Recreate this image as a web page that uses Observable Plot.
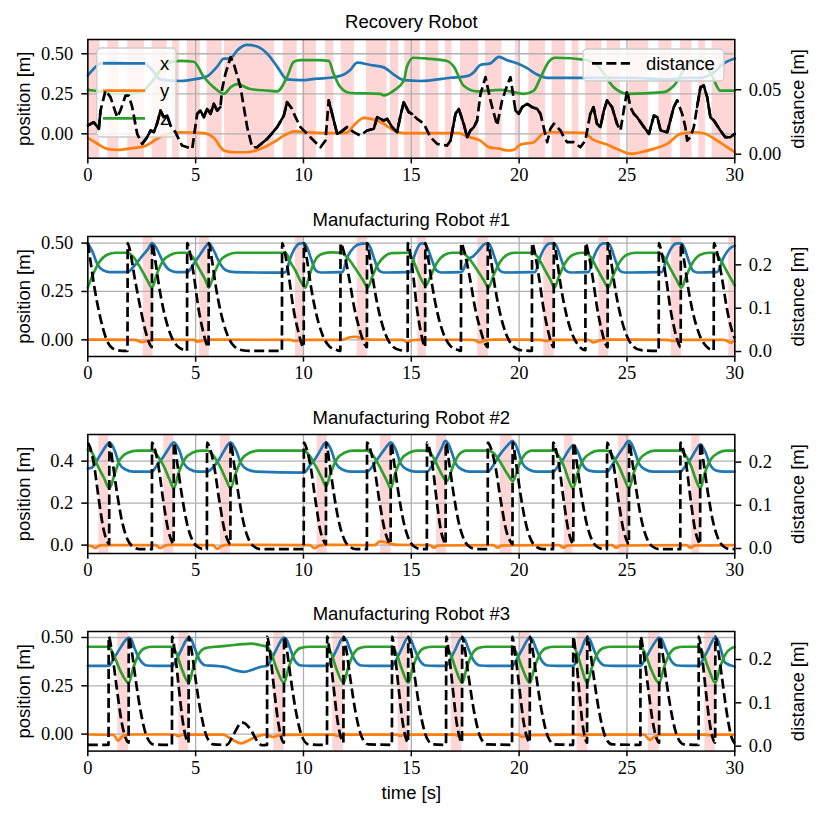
<!DOCTYPE html>
<html><head><meta charset="utf-8">
<script src="https://cdn.jsdelivr.net/npm/d3@7"></script>
<script src="https://cdn.jsdelivr.net/npm/@observablehq/plot@0.6"></script>
<style>
html,body{margin:0;padding:0;background:#fff;}
#fig{position:relative;width:822px;height:822px;overflow:hidden;background:#fff;}
#fig > div{position:absolute;left:0;}
</style></head><body><div id="fig"></div>
<script>
// ---------- labels & ticks ----------
const seriesNames = ["x", "y", "z"];
const distanceName = "distance";
const panelTitles = ["Recovery Robot", "Manufacturing Robot #1", "Manufacturing Robot #2", "Manufacturing Robot #3"];
const timeTicks = [0, 5, 10, 15, 20, 25, 30];
const timeLabel = "time [s]";
const positionLabel = "position [m]";
const distanceLabel = "distance [m]";
const positionTicks = [[0, 0.25, 0.5], [0, 0.25, 0.5], [0, 0.2, 0.4], [0, 0.25, 0.5]];
const positionTickLabels = [["0.00", "0.25", "0.50"], ["0.00", "0.25", "0.50"], ["0.0", "0.2", "0.4"], ["0.00", "0.25", "0.50"]];
const distanceTicks = [[0, 0.05], [0, 0.1, 0.2], [0, 0.1, 0.2], [0, 0.1, 0.2]];
const distanceTickLabels = [["0.00", "0.05"], ["0.0", "0.1", "0.2"], ["0.0", "0.1", "0.2"], ["0.0", "0.1", "0.2"]];
const positionDomains = [[-0.152, 0.589], [-0.086, 0.534], [-0.040, 0.527], [-0.088, 0.531]];
const distanceDomains = [[-0.0031, 0.089], [-0.0115, 0.2654], [-0.0116, 0.2639], [-0.0115, 0.2647]];

// ---------- Recovery Robot (t, value pairs) ----------
const rec_x = [0,0.365, 0.3,0.41, 0.59,0.44, 1.2,0.45, 1.82,0.44, 2.6,0.44, 2.98,0.40, 3.37,0.34, 4.3,0.33, 4.91,0.34, 5.53,0.36, 6.0,0.42, 6.31,0.47, 6.6,0.47, 6.92,0.52, 7.39,0.555, 7.85,0.545, 8.32,0.50, 8.78,0.42, 9.24,0.34, 9.86,0.335, 10.63,0.345, 11.25,0.35, 11.87,0.37, 12.18,0.40, 12.49,0.445, 13.1,0.43, 13.72,0.415, 14.19,0.37, 14.65,0.335, 15.42,0.33, 16.82,0.35, 17.59,0.36, 17.9,0.385, 18.2,0.43, 18.66,0.44, 19.06,0.48, 19.44,0.46, 19.9,0.44, 20.37,0.41, 20.83,0.37, 21.3,0.35, 23.45,0.35, 25.3,0.35, 26.87,0.34, 27.8,0.35, 28.41,0.35, 29.0,0.38, 29.49,0.44, 30,0.47];
const rec_y = [0,-0.025, 0.43,-0.06, 0.9,-0.094, 1.36,-0.10, 2.13,-0.088, 2.6,-0.079, 3.21,-0.031, 3.68,0.0, 4.3,0.01, 5.38,0.004, 5.84,-0.025, 6.31,-0.104, 6.77,-0.115, 7.39,-0.115, 8.0,-0.094, 8.62,-0.052, 9.24,0.0, 9.55,0.015, 10.63,0.006, 11.4,0.004, 12.02,0.008, 12.33,0.052, 12.8,0.10, 13.26,0.09, 13.72,0.063, 14.19,0.02, 14.65,0.004, 17.2,0.004, 17.59,-0.017, 18.2,-0.042, 18.59,-0.083, 19.13,-0.094, 19.44,-0.104, 19.75,-0.10, 20.06,-0.067, 20.68,-0.052, 21.14,0.004, 21.6,0.01, 23.0,0.006, 23.45,-0.038, 24.08,-0.067, 24.7,-0.104, 25.16,-0.125, 25.63,-0.115, 26.24,-0.094, 26.87,-0.063, 27.48,0.0, 28.1,0.01, 28.56,0.004, 29.18,-0.042, 29.65,-0.083, 30,-0.115];
const rec_z = [0,0.275, 0.59,0.265, 1.2,0.25, 1.82,0.25, 2.44,0.26, 3.06,0.34, 3.68,0.44, 4.3,0.455, 4.91,0.45, 5.38,0.355, 5.84,0.29, 6.31,0.25, 6.62,0.29, 6.92,0.31, 7.54,0.28, 8.32,0.27, 8.78,0.265, 9.24,0.355, 9.55,0.45, 9.86,0.46, 10.63,0.46, 11.17,0.455, 11.4,0.375, 11.72,0.29, 12.18,0.255, 13.57,0.25, 13.72,0.24, 14.19,0.27, 14.65,0.33, 14.8,0.42, 15.1,0.475, 15.73,0.47, 16.66,0.455, 16.97,0.42, 17.43,0.30, 18.05,0.265, 19.13,0.275, 19.75,0.26, 20.22,0.25, 20.68,0.27, 20.99,0.35, 21.37,0.45, 21.68,0.475, 23.15,0.46, 23.61,0.43, 24.39,0.29, 25.0,0.25, 26.71,0.26, 27.17,0.30, 27.8,0.43, 28.25,0.46, 28.56,0.45, 28.95,0.36, 29.33,0.27, 30,0.27];
const rec_dist = [0,0.0223, 0.28,0.0248, 0.51,0.0197, 0.59,0.0339, 0.82,0.0494, 1.05,0.0443, 1.36,0.0287, 1.51,0.0339, 1.75,0.0455, 1.9,0.0455, 2.06,0.0365, 2.29,0.0158, 2.52,0.008, 2.75,0.0132, 2.91,0.0184, 3.06,0.0171, 3.21,0.0236, 3.37,0.0339, 3.52,0.0287, 3.68,0.03, 3.83,0.0223, 4.06,0.0171, 4.37,0.0067, 4.84,0.0041, 5.07,0.0313, 5.22,0.0339, 5.38,0.0287, 5.53,0.0352, 5.69,0.0313, 5.84,0.0391, 6.0,0.0339, 6.15,0.0365, 6.23,0.0507, 6.38,0.0624, 6.62,0.0753, 6.77,0.0701, 7.08,0.052, 7.39,0.021, 7.62,0.0054, 7.85,0.0054, 8.32,0.0119, 8.78,0.021, 9.09,0.03, 9.24,0.0404, 9.47,0.0352, 9.63,0.0287, 9.86,0.021, 10.32,0.0132, 10.79,0.0054, 11.02,0.0106, 11.17,0.0417, 11.33,0.0313, 11.56,0.0158, 11.72,0.0171, 12.02,0.021, 12.33,0.0171, 12.64,0.0145, 12.95,0.0184, 13.26,0.0197, 13.42,0.0287, 13.72,0.0261, 13.88,0.0274, 14.11,0.021, 14.34,0.0171, 14.5,0.03, 14.65,0.0404, 14.88,0.0326, 15.04,0.0313, 15.27,0.0274, 15.58,0.0236, 15.89,0.0132, 16.2,0.008, 16.66,0.0067, 16.82,0.0106, 17.05,0.0313, 17.2,0.0352, 17.43,0.0236, 17.59,0.0132, 17.74,0.0184, 17.9,0.021, 18.05,0.0261, 18.21,0.0468, 18.44,0.0598, 18.67,0.0417, 18.98,0.0223, 19.21,0.0417, 19.44,0.0533, 19.6,0.0598, 19.83,0.0339, 19.98,0.0313, 20.14,0.0365, 20.37,0.0391, 20.6,0.0365, 20.83,0.0352, 20.99,0.0313, 21.3,0.0093, 21.45,0.0197, 21.61,0.0236, 21.76,0.021, 21.92,0.0184, 22.07,0.0132, 22.23,0.0093, 22.53,0.0093, 22.84,0.0054, 23.07,0.0106, 23.3,0.0313, 23.45,0.0365, 23.61,0.0236, 23.77,0.021, 23.93,0.0339, 24.08,0.0417, 24.31,0.0365, 24.54,0.0236, 24.7,0.0184, 24.85,0.0339, 25.01,0.0494, 25.16,0.0365, 25.32,0.0313, 25.47,0.0287, 25.79,0.021, 26.02,0.0158, 26.25,0.03, 26.41,0.0287, 26.56,0.0184, 26.87,0.0171, 27.17,0.0365, 27.33,0.0417, 27.56,0.0313, 27.71,0.021, 27.79,0.0106, 27.94,0.0132, 28.1,0.021, 28.25,0.0365, 28.41,0.052, 28.56,0.0533, 28.72,0.0443, 28.87,0.0287, 29.03,0.0261, 29.33,0.0184, 29.56,0.0132, 29.79,0.0132, 30,0.0158];
const rec_spans = [0,0.56, 0.93,1.44, 1.85,2.63, 2.98,3.68, 3.93,4.25, 4.61,5.22, 5.53,6.23, 6.34,8.66, 9.06,9.71, 9.94,10.6, 11.02,11.41, 11.75,12.36, 12.92,13.88, 14.03,14.42, 14.7,15.42, 15.66,16.28, 16.58,16.89, 17.28,18.13, 18.44,19.21, 19.83,20.02, 20.45,21.22, 21.53,22.15, 22.46,22.77, 23.08,23.85, 24.08,24.7, 25.08,26.01, 26.48,27.09, 27.48,28.02, 28.33,28.64, 28.95,30];
// stretches where the noisy distance trace reads as a continuous stroke
const rec_dense = [0,0.6, 2.3,3.83, 5.0,6.2, 7.8,9.3, 11.1,12.1, 12.95,15.04, 16.82,18.1, 19.83,21.05, 23.2,24.6, 25.3,27.4, 28.25,30];

// ---------- Manufacturing Robot #1 ----------
const m1_x = [0,0.5, 0.2,0.46, 0.45,0.39, 0.7,0.36, 1.0,0.35, 1.85,0.35, 2.1,0.375, 2.5,0.43, 2.8,0.47, 2.98,0.5, 3.2,0.47, 3.5,0.40, 3.8,0.36, 4.1,0.35, 4.61,0.35, 4.9,0.39, 5.2,0.44, 5.45,0.48, 5.61,0.5, 5.85,0.46, 6.1,0.40, 6.4,0.36, 6.8,0.35, 9.01,0.347, 9.17,0.35, 9.4,0.426, 9.63,0.478, 9.86,0.498, 10.02,0.498, 10.17,0.478, 10.33,0.426, 10.56,0.36, 10.79,0.348, 11.72,0.35, 11.8,0.35, 12.03,0.426, 12.34,0.478, 12.65,0.496, 12.93,0.498, 13.1,0.478, 13.26,0.426, 13.49,0.36, 13.72,0.348, 14.84,0.35, 14.95,0.35, 15.12,0.426, 15.3,0.478, 15.48,0.498, 15.62,0.496, 15.77,0.47, 15.93,0.42, 16.16,0.36, 16.39,0.348, 17.31,0.35, 17.4,0.36, 17.6,0.41, 17.9,0.435, 18.15,0.465, 18.4,0.495, 18.55,0.498, 18.7,0.478, 18.86,0.426, 19.09,0.36, 19.32,0.348, 20.6,0.35, 20.74,0.35, 20.97,0.426, 21.2,0.478, 21.43,0.498, 21.61,0.498, 21.76,0.478, 21.92,0.426, 22.15,0.36, 22.38,0.348, 23.08,0.35, 23.22,0.35, 23.45,0.426, 23.68,0.478, 23.92,0.498, 24.11,0.498, 24.26,0.478, 24.42,0.426, 24.65,0.36, 24.88,0.348, 26.48,0.35, 26.62,0.35, 26.85,0.426, 27.08,0.478, 27.32,0.498, 27.5,0.498, 27.65,0.478, 27.81,0.426, 28.04,0.36, 28.27,0.348, 29.03,0.35, 29.17,0.35, 29.5,0.43, 29.75,0.47, 30,0.486];
const m1_y = [0,0.001, 2.2,0.0, 2.5,-0.012, 2.75,-0.005, 3.1,0.001, 4.9,0.0, 5.1,-0.009, 5.35,-0.002, 5.7,0.001, 9.4,0.0, 9.6,-0.006, 9.9,0.0, 11.8,0.0, 12.1,0.012, 12.4,0.016, 12.7,0.008, 13.0,0.001, 14.6,0.0, 14.8,-0.012, 15.05,-0.002, 15.5,0.001, 17.9,0.0, 18.15,-0.013, 18.4,-0.004, 18.8,0.001, 21.0,0.0, 21.25,-0.006, 21.5,0.0, 23.2,0.0, 23.45,-0.013, 23.7,-0.004, 24.1,0.001, 26.9,0.0, 27.15,-0.006, 27.4,0.0, 29.5,0.0, 29.8,-0.014, 30,-0.006];
const m1_z = [0,0.27, 0.25,0.34, 0.55,0.405, 0.9,0.44, 1.3,0.45, 1.85,0.45, 2.1,0.43, 2.5,0.36, 2.75,0.31, 2.98,0.27, 3.2,0.34, 3.5,0.41, 3.85,0.44, 4.2,0.45, 4.61,0.45, 4.85,0.43, 5.2,0.36, 5.45,0.31, 5.61,0.27, 5.85,0.34, 6.15,0.41, 6.5,0.44, 6.9,0.45, 9.01,0.45, 9.17,0.45, 9.4,0.40, 9.63,0.357, 9.86,0.305, 10.09,0.27, 10.25,0.322, 10.4,0.374, 10.63,0.426, 10.94,0.447, 11.3,0.452, 11.72,0.45, 12.0,0.43, 12.4,0.37, 12.75,0.31, 12.98,0.27, 13.2,0.33, 13.45,0.39, 13.75,0.43, 14.1,0.448, 14.84,0.45, 15.05,0.42, 15.35,0.34, 15.67,0.28, 15.9,0.33, 16.2,0.40, 16.55,0.44, 16.9,0.45, 17.31,0.45, 17.6,0.43, 18.0,0.37, 18.35,0.31, 18.58,0.27, 18.8,0.33, 19.1,0.40, 19.45,0.44, 19.8,0.45, 20.6,0.45, 20.85,0.43, 21.2,0.36, 21.45,0.31, 21.64,0.27, 21.85,0.33, 22.15,0.40, 22.5,0.44, 22.9,0.45, 23.08,0.45, 23.3,0.43, 23.65,0.36, 23.9,0.31, 24.14,0.27, 24.35,0.33, 24.65,0.40, 25.0,0.44, 25.4,0.45, 26.48,0.45, 26.7,0.43, 27.05,0.36, 27.3,0.31, 27.53,0.27, 27.75,0.33, 28.05,0.40, 28.4,0.44, 28.8,0.45, 29.03,0.45, 29.3,0.42, 29.65,0.35, 30,0.28];
const m1_dist = [0,0.25, 0.15,0.20, 0.3,0.15, 0.55,0.085, 0.85,0.03, 1.2,0.006, 1.6,0.0015, 1.84,0.0015,
 1.85,0.25, 1.96,0.232, 2.17,0.171, 2.44,0.10, 2.67,0.048, 2.87,0.017, 2.97,0.01, 2.98,0.25, 3.13,0.21, 3.29,0.155, 3.52,0.094, 3.83,0.04, 4.14,0.013, 4.5,0.003, 4.6,0.0015,
 4.61,0.25, 4.72,0.232, 4.93,0.171, 5.13,0.10, 5.34,0.048, 5.51,0.017, 5.6,0.01, 5.61,0.25, 5.76,0.21, 5.92,0.155, 6.15,0.094, 6.46,0.04, 6.77,0.013, 7.16,0.003, 7.5,0.0015, 9.0,0.0015,
 9.01,0.25, 9.12,0.232, 9.33,0.171, 9.53,0.10, 9.75,0.048, 9.92,0.017, 10.01,0.01, 10.02,0.25, 10.17,0.21, 10.33,0.155, 10.56,0.094, 10.87,0.04, 11.18,0.013, 11.57,0.003, 11.71,0.0015,
 11.72,0.25, 11.86,0.232, 12.11,0.171, 12.36,0.10, 12.62,0.048, 12.83,0.017, 12.94,0.01, 12.95,0.25, 13.1,0.21, 13.26,0.155, 13.49,0.094, 13.8,0.04, 14.11,0.013, 14.5,0.003, 14.83,0.0015,
 14.84,0.25, 14.93,0.232, 15.1,0.171, 15.26,0.10, 15.43,0.048, 15.57,0.017, 15.64,0.01, 15.65,0.25, 15.8,0.21, 15.96,0.155, 16.19,0.094, 16.5,0.04, 16.81,0.013, 17.2,0.003, 17.3,0.0015,
 17.31,0.25, 17.45,0.232, 17.71,0.171, 17.96,0.10, 18.22,0.048, 18.43,0.017, 18.54,0.01, 18.55,0.25, 18.7,0.21, 18.86,0.155, 19.09,0.094, 19.4,0.04, 19.71,0.013, 20.1,0.003, 20.59,0.0015,
 20.6,0.25, 20.71,0.232, 20.92,0.171, 21.13,0.10, 21.34,0.048, 21.51,0.017, 21.6,0.01, 21.61,0.25, 21.76,0.21, 21.92,0.155, 22.15,0.094, 22.46,0.04, 22.77,0.013, 23.07,0.003,
 23.08,0.25, 23.19,0.232, 23.41,0.171, 23.62,0.10, 23.83,0.048, 24.01,0.017, 24.1,0.01, 24.11,0.25, 24.26,0.21, 24.42,0.155, 24.65,0.094, 24.96,0.04, 25.27,0.013, 25.66,0.003, 26.47,0.0015,
 26.48,0.25, 26.59,0.232, 26.81,0.171, 27.01,0.10, 27.22,0.048, 27.4,0.017, 27.49,0.01, 27.5,0.25, 27.65,0.21, 27.81,0.155, 28.04,0.094, 28.35,0.04, 28.66,0.013, 29.02,0.003,
 29.03,0.25, 29.16,0.232, 29.4,0.171, 29.63,0.10, 29.87,0.048, 30,0.03];
const m1_spans = [2.57,3.03, 5.18,5.64, 9.63,10.05, 12.49,12.97, 15.3,15.7, 18.08,18.57, 21.14,21.63, 23.7,24.16, 27.05,27.53, 29.72,30];

// ---------- Manufacturing Robot #2 ----------
const m2_x = [0,0.365, 0.2,0.37, 0.4,0.40, 0.7,0.45, 0.9,0.48, 1.0,0.49, 1.1,0.48, 1.25,0.45, 1.45,0.39, 1.75,0.36, 2.1,0.35, 2.98,0.35, 3.2,0.38, 3.5,0.42, 3.75,0.46, 3.89,0.482, 3.99,0.49, 4.09,0.48, 4.25,0.45, 4.45,0.39, 4.75,0.36, 5.1,0.35, 5.53,0.35, 5.8,0.37, 6.1,0.41, 6.35,0.455, 6.52,0.482, 6.62,0.49, 6.72,0.48, 6.88,0.45, 7.1,0.39, 7.4,0.36, 7.8,0.35, 10.02,0.345, 10.3,0.38, 10.6,0.42, 10.8,0.455, 10.95,0.482, 11.05,0.49, 11.15,0.48, 11.3,0.45, 11.5,0.39, 11.8,0.36, 12.2,0.35, 12.95,0.35, 13.2,0.375, 13.5,0.42, 13.75,0.455, 13.95,0.482, 14.05,0.49, 14.15,0.48, 14.3,0.45, 14.5,0.39, 14.8,0.36, 15.2,0.35, 15.73,0.35, 15.95,0.375, 16.2,0.42, 16.42,0.465, 16.52,0.49, 16.6,0.497, 16.7,0.485, 16.85,0.45, 17.05,0.39, 17.35,0.36, 17.7,0.35, 18.55,0.35, 18.8,0.38, 19.1,0.43, 19.42,0.47, 19.6,0.49, 19.7,0.497, 19.8,0.485, 19.95,0.45, 20.15,0.39, 20.45,0.36, 20.8,0.35, 21.58,0.35, 21.8,0.375, 22.05,0.41, 22.28,0.45, 22.43,0.47, 22.52,0.476, 22.62,0.465, 22.78,0.43, 22.95,0.385, 23.25,0.355, 23.6,0.35, 24.08,0.35, 24.3,0.38, 24.6,0.43, 24.87,0.47, 25.0,0.49, 25.1,0.497, 25.2,0.485, 25.35,0.45, 25.55,0.39, 25.85,0.36, 26.2,0.35, 27.48,0.35, 27.7,0.375, 27.95,0.41, 28.18,0.45, 28.31,0.472, 28.4,0.48, 28.5,0.47, 28.65,0.44, 28.85,0.385, 29.15,0.355, 29.5,0.35, 30,0.35];
const m2_y = [0,-0.002, 0.2,-0.006, 0.35,-0.014, 0.5,-0.004, 0.7,0.0, 3.15,0.0, 3.35,-0.015, 3.55,-0.004, 3.8,0.001, 5.8,0.0, 6.0,-0.018, 6.2,-0.005, 6.5,0.001, 10.3,0.0, 10.5,-0.015, 10.7,-0.004, 11.0,0.001, 13.3,0.0, 13.55,0.018, 13.8,0.014, 14.1,0.005, 14.4,0.001, 15.85,0.0, 16.05,-0.012, 16.25,-0.002, 18.8,0.0, 19.0,-0.012, 19.2,-0.002, 21.85,0.0, 22.05,-0.012, 22.25,-0.002, 24.3,0.0, 24.5,-0.012, 24.7,-0.002, 27.75,0.0, 27.95,-0.012, 28.15,-0.002, 30,0.0];
const m2_z = [0,0.455, 0.2,0.44, 0.45,0.38, 0.75,0.32, 1.0,0.27, 1.25,0.34, 1.5,0.41, 1.85,0.44, 2.3,0.45, 2.98,0.45, 3.2,0.43, 3.55,0.37, 3.8,0.31, 3.99,0.27, 4.2,0.34, 4.5,0.41, 4.85,0.44, 5.25,0.45, 5.53,0.45, 5.8,0.43, 6.15,0.37, 6.42,0.31, 6.62,0.27, 6.85,0.34, 7.15,0.41, 7.5,0.44, 7.9,0.45, 10.02,0.45, 10.25,0.43, 10.6,0.37, 10.85,0.32, 11.05,0.28, 11.25,0.34, 11.55,0.41, 11.9,0.44, 12.3,0.45, 12.95,0.45, 13.2,0.43, 13.55,0.37, 13.85,0.31, 14.05,0.27, 14.25,0.34, 14.55,0.41, 14.9,0.44, 15.3,0.45, 15.73,0.45, 15.95,0.43, 16.25,0.37, 16.65,0.305, 16.95,0.38, 17.2,0.43, 17.55,0.45, 18.55,0.45, 18.8,0.44, 19.1,0.40, 19.45,0.34, 19.72,0.305, 19.95,0.37, 20.25,0.43, 20.6,0.45, 21.58,0.45, 21.8,0.43, 22.1,0.37, 22.3,0.31, 22.5,0.27, 22.7,0.34, 23.0,0.41, 23.35,0.44, 23.7,0.45, 24.08,0.45, 24.3,0.43, 24.65,0.37, 24.9,0.31, 25.1,0.27, 25.3,0.34, 25.6,0.41, 25.95,0.44, 26.3,0.45, 27.48,0.45, 27.7,0.43, 28.0,0.37, 28.2,0.31, 28.4,0.27, 28.6,0.34, 28.9,0.41, 29.25,0.44, 29.6,0.45, 30,0.45];
const m2_dist = [0,0.245, 0.1,0.235, 0.3,0.19, 0.52,0.11, 0.75,0.04, 0.92,0.015, 0.99,0.01, 1.0,0.245, 1.15,0.20, 1.35,0.13, 1.6,0.06, 1.85,0.02, 2.1,0.004, 2.4,-0.0015, 2.97,-0.0015,
 2.98,0.245, 3.08,0.235, 3.28,0.19, 3.5,0.11, 3.74,0.04, 3.91,0.015, 3.98,0.01, 3.99,0.245, 4.14,0.20, 4.34,0.13, 4.59,0.06, 4.84,0.02, 5.09,0.004, 5.39,-0.0015, 5.52,-0.0015,
 5.53,0.245, 5.64,0.235, 5.86,0.19, 6.1,0.11, 6.35,0.04, 6.53,0.015, 6.61,0.01, 6.62,0.245, 6.77,0.20, 6.97,0.13, 7.22,0.06, 7.47,0.02, 7.72,0.004, 8.02,-0.0015, 10.01,-0.0015,
 10.02,0.245, 10.12,0.235, 10.33,0.19, 10.56,0.11, 10.79,0.04, 10.97,0.015, 11.04,0.01, 11.05,0.245, 11.2,0.20, 11.4,0.13, 11.65,0.06, 11.9,0.02, 12.15,0.004, 12.45,-0.0015, 12.94,-0.0015,
 12.95,0.245, 13.06,0.235, 13.28,0.19, 13.52,0.11, 13.78,0.04, 13.96,0.015, 14.04,0.01, 14.05,0.245, 14.2,0.20, 14.4,0.13, 14.65,0.06, 14.9,0.02, 15.15,0.004, 15.45,-0.0015, 15.72,-0.0015,
 15.73,0.245, 15.82,0.235, 15.99,0.19, 16.18,0.11, 16.38,0.04, 16.53,0.015, 16.59,0.01, 16.6,0.245, 16.75,0.20, 16.95,0.13, 17.2,0.06, 17.45,0.02, 17.7,0.004, 18.0,-0.0015, 18.54,-0.0015,
 18.55,0.245, 18.67,0.235, 18.9,0.19, 19.15,0.11, 19.41,0.04, 19.61,0.015, 19.69,0.01, 19.7,0.245, 19.85,0.20, 20.05,0.13, 20.3,0.06, 20.55,0.02, 20.8,0.004, 21.1,-0.0015, 21.57,-0.0015,
 21.58,0.245, 21.67,0.235, 21.86,0.19, 22.07,0.11, 22.29,0.04, 22.44,0.015, 22.51,0.01, 22.52,0.245, 22.67,0.20, 22.87,0.13, 23.12,0.06, 23.37,0.02, 23.62,0.004, 23.92,-0.0015, 24.07,-0.0015,
 24.08,0.245, 24.18,0.235, 24.39,0.19, 24.61,0.11, 24.85,0.04, 25.02,0.015, 25.09,0.01, 25.1,0.245, 25.25,0.20, 25.45,0.13, 25.7,0.06, 25.95,0.02, 26.2,0.004, 26.5,-0.0015, 27.47,-0.0015,
 27.48,0.245, 27.57,0.235, 27.76,0.19, 27.96,0.11, 28.17,0.04, 28.33,0.015, 28.39,0.01, 28.4,0.245, 28.55,0.20, 28.75,0.13, 29.0,0.06, 29.25,0.02, 29.5,0.004, 29.8,-0.0015, 30,-0.0015];
const m2_spans = [0.51,0.97, 3.52,3.99, 6.15,6.62, 10.63,11.1, 13.57,14.07, 16.17,16.63, 19.13,19.67, 22.1,22.5, 24.6,25.13, 28.0,28.38];

// ---------- Manufacturing Robot #3 ----------
const m3_x = [0,0.353, 0.97,0.353, 1.2,0.39, 1.5,0.445, 1.78,0.49, 1.9,0.5, 2.02,0.49, 2.15,0.45, 2.45,0.38, 2.75,0.355, 3.1,0.353, 3.91,0.353, 4.1,0.385, 4.35,0.44, 4.57,0.488, 4.68,0.5, 4.8,0.49, 4.94,0.45, 5.2,0.38, 5.5,0.355, 5.9,0.353, 6.5,0.343, 6.8,0.331, 7.24,0.322, 7.7,0.336, 8.1,0.35, 8.32,0.353, 8.5,0.385, 8.75,0.44, 8.98,0.488, 9.1,0.5, 9.22,0.49, 9.36,0.45, 9.6,0.38, 9.9,0.355, 10.3,0.353, 11.1,0.353, 11.3,0.385, 11.55,0.44, 11.75,0.488, 11.86,0.5, 11.98,0.49, 12.12,0.45, 12.4,0.38, 12.7,0.355, 13.1,0.353, 14.11,0.353, 14.3,0.385, 14.55,0.44, 14.75,0.488, 14.86,0.5, 14.98,0.49, 15.12,0.45, 15.4,0.38, 15.7,0.355, 16.1,0.353, 16.62,0.353, 16.8,0.385, 17.05,0.44, 17.25,0.488, 17.36,0.5, 17.48,0.49, 17.62,0.45, 17.9,0.38, 18.2,0.355, 18.6,0.353, 19.68,0.353, 19.88,0.385, 20.15,0.44, 20.39,0.488, 20.5,0.5, 20.62,0.49, 20.76,0.45, 21.05,0.38, 21.35,0.355, 21.75,0.353, 22.51,0.353, 22.68,0.385, 22.9,0.44, 23.06,0.488, 23.16,0.5, 23.28,0.49, 23.42,0.45, 23.7,0.38, 24.0,0.355, 24.4,0.353, 25.63,0.353, 25.83,0.385, 26.1,0.44, 26.38,0.488, 26.5,0.5, 26.62,0.49, 26.76,0.45, 27.05,0.38, 27.35,0.355, 27.75,0.353, 28.33,0.353, 28.52,0.385, 28.78,0.44, 28.99,0.488, 29.1,0.5, 29.22,0.485, 29.35,0.44, 29.55,0.37, 30,0.35];
const m3_y = [0,-0.002, 1.2,-0.004, 1.4,-0.034, 1.6,-0.012, 1.85,-0.002, 4.0,-0.002, 4.2,-0.01, 4.4,-0.003, 6.3,-0.003, 6.5,-0.015, 6.8,-0.035, 7.1,-0.048, 7.5,-0.03, 7.85,-0.012, 8.2,-0.003, 8.6,-0.015, 8.9,-0.004, 11.4,-0.003, 11.6,-0.01, 11.8,-0.003, 14.3,-0.003, 14.5,-0.008, 14.7,-0.003, 17.0,-0.003, 17.2,-0.008, 17.4,-0.003, 19.95,-0.003, 20.15,-0.015, 20.35,-0.005, 22.8,-0.003, 23.0,-0.008, 23.2,-0.003, 25.8,-0.003, 26.05,-0.03, 26.3,-0.012, 26.55,-0.003, 28.6,-0.003, 28.8,-0.006, 29.0,-0.003, 30,-0.003];
const m3_z = [0,0.452, 0.97,0.452, 1.2,0.41, 1.5,0.33, 1.9,0.265, 2.1,0.34, 2.35,0.41, 2.65,0.445, 3.0,0.452, 3.91,0.452, 4.1,0.42, 4.35,0.34, 4.68,0.265, 4.88,0.34, 5.12,0.41, 5.45,0.445, 5.9,0.452, 6.5,0.458, 7.2,0.466, 7.6,0.468, 8.0,0.46, 8.32,0.452, 8.5,0.42, 8.75,0.34, 9.1,0.265, 9.3,0.34, 9.55,0.41, 9.85,0.445, 10.3,0.452, 11.1,0.452, 11.28,0.42, 11.52,0.34, 11.86,0.265, 12.06,0.34, 12.3,0.41, 12.6,0.445, 13.0,0.452, 14.11,0.452, 14.3,0.42, 14.55,0.34, 14.86,0.265, 15.06,0.34, 15.3,0.41, 15.6,0.445, 16.0,0.452, 16.62,0.452, 16.8,0.42, 17.05,0.34, 17.36,0.265, 17.56,0.34, 17.8,0.41, 18.1,0.445, 18.5,0.452, 19.68,0.452, 19.88,0.42, 20.15,0.34, 20.5,0.265, 20.7,0.34, 20.95,0.41, 21.25,0.445, 21.65,0.452, 22.51,0.452, 22.68,0.42, 22.9,0.34, 23.16,0.265, 23.36,0.34, 23.6,0.41, 23.9,0.445, 24.3,0.452, 25.63,0.452, 25.83,0.42, 26.1,0.34, 26.5,0.265, 26.7,0.34, 26.95,0.41, 27.25,0.445, 27.65,0.452, 28.33,0.452, 28.52,0.42, 28.78,0.34, 29.1,0.265, 29.3,0.34, 29.55,0.41, 29.85,0.445, 30,0.45];
const m3_dist = [0,0.003, 0.96,0.003, 0.97,0.253, 1.11,0.22, 1.34,0.135, 1.57,0.055, 1.76,0.018, 1.89,0.008, 1.9,0.253, 2.02,0.225, 2.2,0.16, 2.45,0.08, 2.75,0.02, 3.05,0.004, 3.9,0.003,
 3.91,0.253, 4.03,0.22, 4.22,0.135, 4.41,0.055, 4.56,0.018, 4.67,0.008, 4.68,0.253, 4.8,0.225, 4.98,0.16, 5.23,0.08, 5.53,0.02, 5.83,0.004, 6.45,0.003, 6.77,0.028, 7.15,0.055, 7.54,0.039, 7.85,0.012, 8.08,0.002, 8.31,0.003,
 8.32,0.253, 8.44,0.22, 8.63,0.135, 8.83,0.055, 8.98,0.018, 9.09,0.008, 9.1,0.253, 9.22,0.225, 9.4,0.16, 9.65,0.08, 9.95,0.02, 10.25,0.004, 11.09,0.003,
 11.1,0.253, 11.21,0.22, 11.4,0.135, 11.59,0.055, 11.75,0.018, 11.85,0.008, 11.86,0.253, 11.98,0.225, 12.16,0.16, 12.41,0.08, 12.71,0.02, 13.01,0.004, 14.1,0.003,
 14.11,0.253, 14.22,0.22, 14.41,0.135, 14.6,0.055, 14.75,0.018, 14.85,0.008, 14.86,0.253, 14.98,0.225, 15.16,0.16, 15.41,0.08, 15.71,0.02, 16.01,0.004, 16.61,0.003,
 16.62,0.253, 16.73,0.22, 16.92,0.135, 17.1,0.055, 17.25,0.018, 17.35,0.008, 17.36,0.253, 17.48,0.225, 17.66,0.16, 17.91,0.08, 18.21,0.02, 18.51,0.004, 19.67,0.003,
 19.68,0.253, 19.8,0.22, 20.01,0.135, 20.21,0.055, 20.38,0.018, 20.49,0.008, 20.5,0.253, 20.62,0.225, 20.8,0.16, 21.05,0.08, 21.35,0.02, 21.65,0.004, 22.5,0.003,
 22.51,0.253, 22.61,0.22, 22.77,0.135, 22.93,0.055, 23.06,0.018, 23.15,0.008, 23.16,0.253, 23.28,0.225, 23.46,0.16, 23.71,0.08, 24.01,0.02, 24.31,0.004, 25.62,0.003,
 25.63,0.253, 25.76,0.22, 25.98,0.135, 26.2,0.055, 26.37,0.018, 26.49,0.008, 26.5,0.253, 26.62,0.225, 26.8,0.16, 27.05,0.08, 27.35,0.02, 27.65,0.004, 28.32,0.003,
 28.33,0.253, 28.45,0.22, 28.64,0.135, 28.83,0.055, 28.98,0.018, 29.09,0.008, 29.1,0.253, 29.22,0.225, 29.4,0.16, 29.62,0.08, 29.85,0.02, 30,0.006];
const m3_spans = [1.39,1.9, 4.22,4.68, 8.62,9.11, 11.36,11.86, 14.39,14.86, 16.85,17.36, 20.03,20.5, 22.69,23.18, 26.0,26.51, 28.61,29.1];

// ---------- helpers ----------
const COLORS = {x: "#1f77b4", y: "#ff7f0e", z: "#2ca02c"};
const SANS = "Liberation Sans, Arial, sans-serif";
const SERIF = "Liberation Serif, Times New Roman, serif";
const FS = 18.5, LW = 2.7, DASH = "10,4.4";
const toPairs = a => { const r = []; for (let i = 0; i < a.length; i += 2) r.push({t: a[i], v: a[i + 1]}); return r; };
const toSpans = a => { const r = []; for (let i = 0; i < a.length; i += 2) r.push({t1: a[i], t2: a[i + 1]}); return r; };

const panels = [
  {x: rec_x, y: rec_y, z: rec_z, dist: rec_dist, spans: rec_spans, dense: rec_dense, frameTop: 39, frameH: 118.7},
  {x: m1_x, y: m1_y, z: m1_z, dist: m1_dist, spans: m1_spans, frameTop: 235.7, frameH: 120},
  {x: m2_x, y: m2_y, z: m2_z, dist: m2_dist, spans: m2_spans, frameTop: 433.7, frameH: 119},
  {x: m3_x, y: m3_y, z: m3_z, dist: m3_dist, spans: m3_spans, frameTop: 630.7, frameH: 119.6}
];

function legendBox(x, y, w, h) {
  return `<rect x="${x}" y="${y}" width="${w}" height="${h}" rx="4" fill="white" fill-opacity="0.8" stroke="#cccccc" stroke-width="1.3"/>`;
}
function leftLegend() {
  const g = document.createElementNS("http://www.w3.org/2000/svg", "g");
  const rows = [63.3, 90.7, 118.3];
  let s = legendBox(96.7, 48, 79.3, 89);
  seriesNames.forEach((n, k) => {
    s += `<line x1="103" x2="145" y1="${rows[k]}" y2="${rows[k]}" stroke="${COLORS[n]}" stroke-width="${LW}"/>`;
    s += `<text x="160" y="${rows[k] + 6.6}" text-anchor="start" font-family="${SANS}" font-size="${FS}" fill="black">${n}</text>`;
  });
  g.innerHTML = s;
  return g;
}
function rightLegend() {
  const g = document.createElementNS("http://www.w3.org/2000/svg", "g");
  let s = legendBox(583, 49, 141, 32);
  s += `<line x1="592" x2="630" y1="63.3" y2="63.3" stroke="black" stroke-width="${LW}" stroke-dasharray="${DASH}"/>`;
  s += `<text x="646" y="70.3" text-anchor="start" font-family="${SANS}" font-size="${FS}" fill="black">${distanceName}</text>`;
  g.innerHTML = s;
  return g;
}

const fig = document.getElementById("fig");
panels.forEach((cfg, i) => {
  const [p0, p1] = positionDomains[i], [d0, d1] = distanceDomains[i];
  const toP = d => p0 + (d - d0) * (p1 - p0) / (d1 - d0);
  const mt = 39, mb = i === 3 ? 72 : 40;
  const pLab = new Map(positionTicks[i].map((v, k) => [v, positionTickLabels[i][k]]));
  const dVals = distanceTicks[i].map(toP);
  const dLab = new Map(dVals.map((v, k) => [v, distanceTickLabels[i][k]]));
  const distData = toPairs(cfg.dist);
  const lineOpts = (c) => ({x: "t", y: "v", stroke: c, strokeWidth: LW, curve: "monotone-x"});

  const marks = [
    Plot.rect(toSpans(cfg.spans), {x1: "t1", x2: "t2", fill: "#ff0000", fillOpacity: 0.16}),
    Plot.gridX(timeTicks, {stroke: "#b0b0b0", strokeOpacity: 1, strokeWidth: 1.3}),
    Plot.gridY(positionTicks[i], {stroke: "#b0b0b0", strokeOpacity: 1, strokeWidth: 1.3}),
    Plot.line(toPairs(cfg.x), lineOpts(COLORS.x)),
    Plot.line(toPairs(cfg.y), lineOpts(COLORS.y)),
    Plot.line(toPairs(cfg.z), lineOpts(COLORS.z))
  ];
  if (i === 0) marks.push(leftLegend);
  marks.push(Plot.line(distData, {x: "t", y: d => toP(d.v), stroke: "black", strokeWidth: LW,
    strokeDasharray: DASH, strokeLinecap: "butt", curve: i === 0 ? "linear" : "monotone-x"}));
  if (cfg.dense) {
    const dense = [];
    for (let k = 0; k < cfg.dense.length; k += 2) {
      distData.filter(d => d.t >= cfg.dense[k] && d.t <= cfg.dense[k + 1]).forEach(d => dense.push({...d, seg: k}));
    }
    marks.push(Plot.line(dense, {x: "t", y: d => toP(d.v), z: "seg", stroke: "black", strokeWidth: LW * 0.95, curve: "linear"}));
  }
  if (i === 0) marks.push(rightLegend);
  marks.push(
    Plot.frame({stroke: "black", strokeWidth: 1.5}),
    Plot.axisX(timeTicks, {tickSize: 5.7, tickPadding: 4, tickFormat: d => String(d), fontFamily: SERIF, fontSize: FS, strokeWidth: 1.5, label: null}),
    Plot.axisY(positionTicks[i], {anchor: "left", tickSize: 6, tickPadding: 8.5, tickFormat: v => pLab.get(v), fontFamily: SERIF, fontSize: FS, strokeWidth: 1.5, label: null}),
    Plot.axisY(dVals, {anchor: "right", tickSize: 6, tickPadding: 8, tickFormat: v => dLab.get(v), fontFamily: SERIF, fontSize: FS, strokeWidth: 1.5, label: null}),
    Plot.text([panelTitles[i]], {text: d => d, frameAnchor: "top", dy: -11, lineAnchor: "bottom", fontFamily: SANS, fontSize: FS, fill: "black"}),
    Plot.text([positionLabel], {text: d => d, frameAnchor: "left", textAnchor: "middle", dx: -64, rotate: -90, lineAnchor: "middle", fontFamily: SANS, fontSize: FS, fill: "black"}),
    Plot.text([distanceLabel], {text: d => d, frameAnchor: "right", textAnchor: "middle", dx: 63.7, rotate: -90, lineAnchor: "middle", fontFamily: SANS, fontSize: FS, fill: "black"})
  );
  if (i === 3) marks.push(Plot.text([timeLabel], {text: d => d, frameAnchor: "bottom", dy: 47.7, lineAnchor: "bottom", fontFamily: SANS, fontSize: FS, fill: "black"}));

  const svg = Plot.plot({
    width: 822,
    height: mt + cfg.frameH + mb,
    marginLeft: 87.3, marginRight: 87.7, marginTop: mt, marginBottom: mb,
    x: {domain: [0, 30]},
    y: {domain: [p0, p1]},
    style: {fontFamily: SERIF, fontSize: FS + "px", background: "transparent", overflow: "visible", color: "black"},
    marks
  });
  const holder = document.createElement("div");
  holder.style.top = (cfg.frameTop - mt) + "px";
  holder.appendChild(svg);
  fig.appendChild(holder);
});
</script>
</body></html>
